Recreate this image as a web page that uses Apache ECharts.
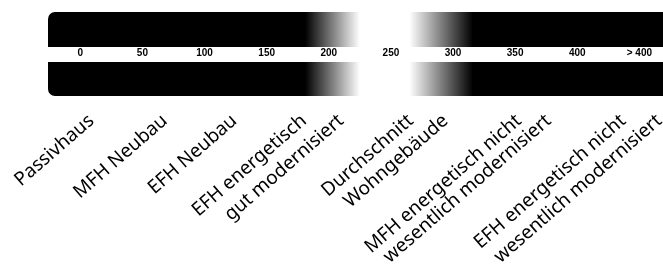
<!DOCTYPE html>
<html>
<head>
<meta charset="utf-8">
<script src="https://cdn.jsdelivr.net/npm/echarts@6/dist/echarts.min.js"></script>
<style>
  html, body { margin: 0; padding: 0; background: #fff; }
  #chart { width: 663px; height: 277px; }
</style>
</head>
<body>
<div id="chart"></div>
<script>
// Skala (kWh/m²a)
const scaleStart = -26
const scaleEnd = 469
const tickValues = [0, 50, 100, 150, 200, 250, 300, 350, 400, 450]
const tickLabels = ['0', '50', '100', '150', '200', '250', '300', '350', '400', '> 400']
// Verlauf: schwarz bis, weiß ab, weiß bis, schwarz ab
const gradientValues = [181, 225, 265, 316]

// Gebäudetypen, Zeile 1 und Zeile 2 mit Position auf der Skala
const labelLine1 = ['Passivhaus', 'MFH Neubau', 'EFH Neubau', 'EFH energetisch', 'Durchschnitt', 'MFH energetisch nicht', 'EFH energetisch nicht']
const labelLine1Pos = [4, 63, 119, 175, 261, 348, 432]
const labelLine2 = ['gut modernisiert', 'Wohngebäude', 'wesentlich modernisiert', 'wesentlich modernisiert']
const labelLine2Pos = [205, 289, 372, 461]

const chart = echarts.init(document.getElementById('chart'))

const catAxis = (values, names) => ({
  type: 'value',
  min: scaleStart,
  max: scaleEnd,
  position: 'bottom',
  axisLine: { show: false, onZero: false },
  axisTick: { show: false },
  splitLine: { show: false },
  axisLabel: {
    customValues: values,
    formatter: (v) => names[values.indexOf(v)] || '',
    rotate: 41,
    align: 'right',
    verticalAlign: 'top',
    margin: 15,
    fontFamily: 'Noto Sans',
    fontSize: 19,
    color: '#000'
  }
})

const option = {
  animation: false,
  grid: { left: 48, right: 0, top: 12, height: 84, outerBoundsMode: 'none' },
  xAxis: [
    {
      type: 'value',
      min: scaleStart,
      max: scaleEnd,
      position: 'bottom',
      offset: -42,
      z: 5,
      axisLine: { onZero: false, lineStyle: { color: '#fff', width: 15 } },
      axisTick: { show: false },
      splitLine: { show: false },
      axisLabel: {
        customValues: tickValues,
        formatter: (v) => tickLabels[tickValues.indexOf(v)] || '',
        margin: -6,
        fontFamily: 'Liberation Sans',
        fontWeight: 'bold',
        fontSize: 10,
        color: '#000'
      }
    },
    catAxis(labelLine1Pos, labelLine1),
    catAxis(labelLine2Pos, labelLine2)
  ],
  yAxis: { type: 'value', min: -1, max: 1, show: false },
  series: [
    {
      type: 'custom',
      data: [[scaleStart, scaleEnd, -1, 1]],
      encode: { x: [0, 1], y: [2, 3] },
      renderItem: (params, api) => {
        const a = api.value(0), b = api.value(1)
        const p0 = api.coord([a, api.value(3)])
        const p1 = api.coord([b, api.value(2)])
        const stop = (v) => (v - a) / (b - a)
        return {
          type: 'rect',
          shape: { x: p0[0], y: p0[1], width: p1[0] - p0[0], height: p1[1] - p0[1], r: [7, 0, 0, 7] },
          style: {
            fill: new echarts.graphic.LinearGradient(0, 0, 1, 0, [
              { offset: 0, color: '#000' },
              { offset: stop(gradientValues[0]), color: '#000' },
              { offset: stop(gradientValues[1]), color: '#fff' },
              { offset: stop(gradientValues[2]), color: '#fff' },
              { offset: stop(gradientValues[3]), color: '#000' },
              { offset: 1, color: '#000' }
            ])
          }
        }
      }
    }
  ]
}

chart.setOption(option)
</script>
</body>
</html>
